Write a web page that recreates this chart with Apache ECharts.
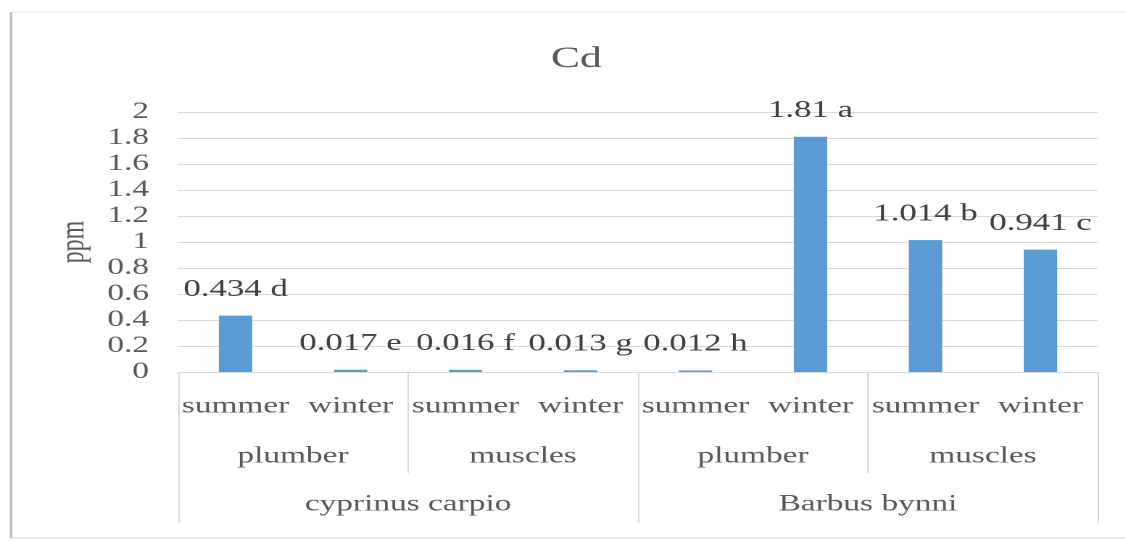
<!DOCTYPE html>
<html><head><meta charset="utf-8">
<script src="https://cdn.jsdelivr.net/npm/echarts@6/dist/echarts.min.js"></script>
<style>
html,body{margin:0;padding:0;background:#fff;overflow:hidden;}
#wrap{width:1125px;height:541px;overflow:hidden;position:relative;}
#chart{width:776px;height:541px;transform:scale(1.45,1);transform-origin:0 0;}
</style></head><body>
<div id="wrap"><div id="chart"></div></div>
<script>
const chartTitle = 'Cd';
const yName = 'ppm';
const seasons = ['summer','winter','summer','winter','summer','winter','summer','winter'];
const tissues = ['plumber','muscles','plumber','muscles'];
const species = ['cyprinus carpio','Barbus bynni'];
const values = [0.434, 0.017, 0.016, 0.013, 0.012, 1.81, 1.014, 0.941];
const letters = ['d','e','f','g','h','a','b','c'];
const yMin = 0, yMax = 2, yStep = 0.2;

const FONT = 'Liberation Serif';
const GRID_COLOR = '#d9d9d9';
const TEXT = '#595959';

const chart = echarts.init(document.getElementById('chart'), null, {renderer: 'canvas', devicePixelRatio: 2});
const option = {
  backgroundColor: '#fff',
  animation: false,
  title: {
    text: chartTitle, left: 380, top: 44, padding: 0,
    textStyle: {fontFamily: FONT, fontSize: 30, fontWeight: 'normal', color: TEXT}
  },
  graphic: [
    {type: 'line', shape: {x1: 7.6, y1: 12, x2: 800, y2: 12}, style: {stroke: '#ececec', lineWidth: 1.5}, silent: true},
    {type: 'line', shape: {x1: 7.6, y1: 538, x2: 800, y2: 538}, style: {stroke: '#e3e3e3', lineWidth: 1.5}, silent: true},
    {type: 'line', shape: {x1: 7.6, y1: 12, x2: 7.6, y2: 538}, style: {stroke: '#bdbdbd', lineWidth: 1.6}, silent: true}
  ],
  grid: {left: 122.8, right: 18.8, top: 112, bottom: 169, containLabel: false},
  yAxis: {
    type: 'value', min: yMin, max: yMax, interval: yStep,
    name: yName, nameLocation: 'middle', nameRotate: 90, nameGap: 50,
    nameTextStyle: {fontFamily: FONT, fontSize: 24, color: TEXT},
    axisLine: {show: false}, axisTick: {show: false},
    axisLabel: {fontFamily: FONT, fontSize: 23, color: TEXT, margin: 20},
    splitLine: {lineStyle: {color: GRID_COLOR, width: 1}}
  },
  xAxis: [
    {
      type: 'category', data: seasons, position: 'bottom',
      axisLine: {show: true, lineStyle: {color: GRID_COLOR, width: 1}},
      axisTick: {show: false},
      axisLabel: {interval: 0, fontFamily: FONT, fontSize: 23, color: TEXT, margin: 23}
    },
    {
      type: 'category', data: tissues, position: 'bottom', gridIndex: 0,
      axisLine: {show: false},
      axisTick: {show: true, interval: 0, length: 101, lineStyle: {color: GRID_COLOR, width: 1}},
      axisLabel: {interval: 0, fontFamily: FONT, fontSize: 23, color: TEXT, margin: 73}
    },
    {
      type: 'category', data: species, position: 'bottom', gridIndex: 0,
      axisLine: {show: false},
      axisTick: {show: true, interval: 0, length: 151, lineStyle: {color: GRID_COLOR, width: 1}},
      axisLabel: {interval: 0, fontFamily: FONT, fontSize: 23, color: TEXT, margin: 121}
    }
  ],
  series: [{
    type: 'bar', xAxisIndex: 0, data: values, barWidth: 23,
    itemStyle: {color: '#5b9bd5'},
    label: {
      show: true, position: 'top', distance: 14,
      fontFamily: FONT, fontSize: 24, color: '#404040',
      formatter: p => p.value + ' ' + letters[p.dataIndex]
    }
  }]
};
chart.setOption(option);
</script>
</body></html>
